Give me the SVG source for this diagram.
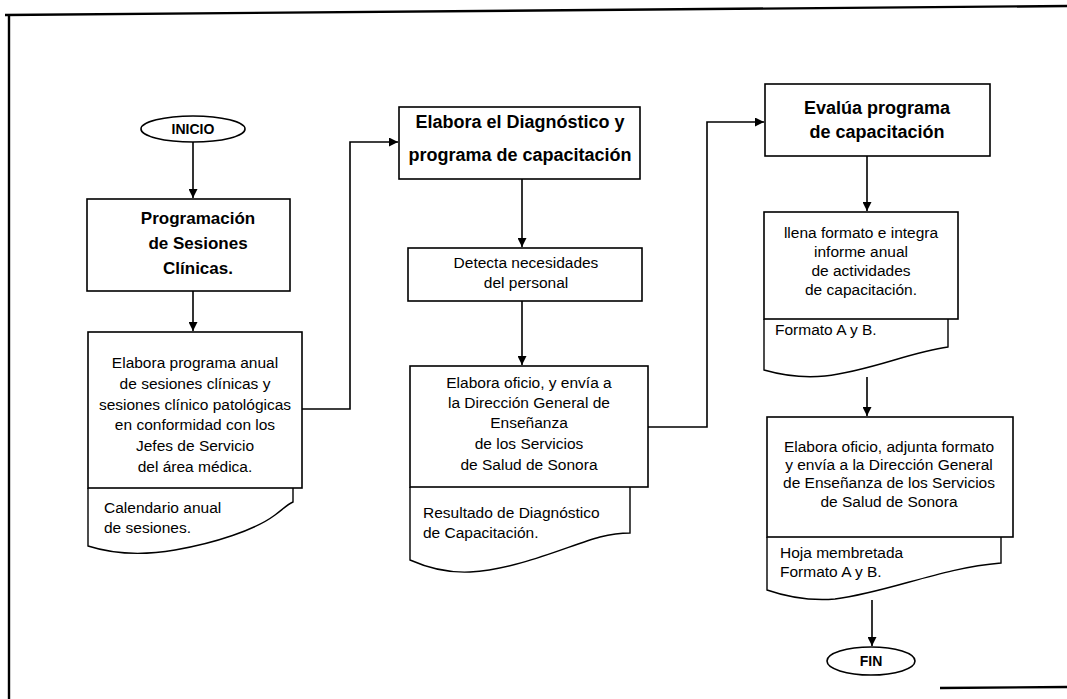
<svg xmlns="http://www.w3.org/2000/svg" width="1067" height="699" viewBox="0 0 1067 699">
<style>
.box{fill:#fff;stroke:#000;stroke-width:1.6}
.doc{fill:none;stroke:#000;stroke-width:1.4}
.con{fill:none;stroke:#000;stroke-width:1.6}
.frame{fill:none;stroke:#000;stroke-width:2.4}
.t{font-family:"Liberation Sans",Arial,sans-serif;font-size:15.5px;fill:#000}
.c{text-anchor:middle}
.h{font-family:"Liberation Sans",Arial,sans-serif;font-size:18px;font-weight:bold;fill:#000;text-anchor:middle}
.term{font-family:"Liberation Sans",Arial,sans-serif;font-size:14px;font-weight:bold;fill:#000;text-anchor:middle}
</style>
<defs>
<marker id="arr" viewBox="0 0 10 10" refX="10" refY="5" markerWidth="10" markerHeight="9" markerUnits="userSpaceOnUse" orient="auto">
<path d="M0,0 L10,5 L0,10 z" fill="#000"/>
</marker>
</defs>
<rect width="1067" height="699" fill="#fff"/>
<g id="frame">
<path class="frame" d="M5,15 L1067,6"/>
<path class="frame" d="M9,15 L9,699"/>
<path class="frame" d="M940,688 L1067,687"/>
</g>
<g id="connectors">
<path class="con" d="M193,142 L193,198" marker-end="url(#arr)"/>
<path class="con" d="M193,291 L193,331" marker-end="url(#arr)"/>
<path class="con" d="M302,409 L350,409 L350,142 L398,142" marker-end="url(#arr)"/>
<path class="con" d="M522,179 L522,247" marker-end="url(#arr)"/>
<path class="con" d="M522,301 L522,365" marker-end="url(#arr)"/>
<path class="con" d="M648,427 L707,427 L707,122 L764,122" marker-end="url(#arr)"/>
<path class="con" d="M867,156 L867,211" marker-end="url(#arr)"/>
<path class="con" d="M867,377 L867,416" marker-end="url(#arr)"/>
<path class="con" d="M872,600 L872,646" marker-end="url(#arr)"/>
</g>
<g id="inicio">
<ellipse class="box" cx="193" cy="129" rx="52" ry="13"/>
<text class="term" x="193" y="134">INICIO</text>
</g>
<g id="programacion">
<rect class="box" x="87" y="199" width="203" height="92"/>
<text class="h" style="font-size:17px" x="198" y="224">Programación</text>
<text class="h" style="font-size:17px" x="198" y="249">de Sesiones</text>
<text class="h" style="font-size:17px" x="198" y="274">Clínicas.</text>
</g>
<g id="elabora-programa">
<rect class="box" x="88" y="332" width="214" height="156"/>
<text class="t c" x="195" y="368">Elabora programa anual</text>
<text class="t c" x="195" y="389">de sesiones clínicas y</text>
<text class="t c" x="195" y="410">sesiones clínico patológicas</text>
<text class="t c" x="195" y="430">en conformidad con los</text>
<text class="t c" x="195" y="451">Jefes de Servicio</text>
<text class="t c" x="195" y="472">del área médica.</text>
</g>
<g id="doc-calendario">
<path class="doc" d="M88,488 L88,546 C110,553 140,556 175,550 C215,543 255,530 275,515 C283,509 288,504 293,502 L293,488"/>
<text class="t" x="104" y="513">Calendario anual</text>
<text class="t" x="104" y="533">de sesiones.</text>
</g>
<g id="diagnostico">
<rect class="box" x="399" y="107" width="241" height="72"/>
<text class="h" x="520" y="128">Elabora el Diagnóstico y</text>
<text class="h" x="520" y="161">programa de capacitación</text>
</g>
<g id="detecta">
<rect class="box" x="408" y="248" width="234" height="53"/>
<text class="t c" x="526" y="268">Detecta necesidades</text>
<text class="t c" x="526" y="288">del personal</text>
</g>
<g id="elabora-oficio">
<rect class="box" x="410" y="366" width="238" height="121"/>
<text class="t c" x="529" y="388">Elabora oficio, y envía  a</text>
<text class="t c" x="529" y="408">la Dirección General de</text>
<text class="t c" x="529" y="428">Enseñanza</text>
<text class="t c" x="529" y="449">de los Servicios</text>
<text class="t c" x="529" y="470">de Salud de Sonora</text>
</g>
<g id="doc-resultado">
<path class="doc" d="M410,487 L410,560 C428,568 448,573 470,572 C520,569 570,545 600,537 C612,534 622,533 630,533 L630,487"/>
<text class="t" x="423" y="518">Resultado de Diagnóstico</text>
<text class="t" x="423" y="538">de Capacitación.</text>
</g>
<g id="evalua">
<rect class="box" x="765" y="84" width="225" height="72"/>
<text class="h" x="877" y="114">Evalúa programa</text>
<text class="h" x="877" y="138">de capacitación</text>
</g>
<g id="llena">
<rect class="box" x="764" y="212" width="194" height="107"/>
<text class="t c" x="861" y="238">llena formato e integra</text>
<text class="t c" x="861" y="257">informe anual</text>
<text class="t c" x="861" y="276">de actividades</text>
<text class="t c" x="861" y="295">de capacitación.</text>
</g>
<g id="doc-formato">
<path class="doc" d="M764,319 L764,370 C785,376 805,378 825,376 C870,371 910,352 948,347 L948,319"/>
<text class="t" x="775" y="335">Formato A y B.</text>
</g>
<g id="elabora-oficio-2">
<rect class="box" x="767" y="417" width="246" height="120"/>
<text class="t c" x="889" y="452">Elabora oficio, adjunta formato</text>
<text class="t c" x="889" y="470">y envía  a la Dirección General</text>
<text class="t c" x="889" y="488">de Enseñanza de los Servicios</text>
<text class="t c" x="889" y="507">de Salud de Sonora</text>
</g>
<g id="doc-hoja">
<path class="doc" d="M767,537 L767,590 C790,598 810,601 835,599 C890,592 940,568 1001,563 L1001,537"/>
<text class="t" x="780" y="558">Hoja membretada</text>
<text class="t" x="780" y="577">Formato A y B.</text>
</g>
<g id="fin">
<ellipse class="box" cx="871" cy="661" rx="44" ry="14"/>
<text class="term" x="871" y="666">FIN</text>
</g>
</svg>
